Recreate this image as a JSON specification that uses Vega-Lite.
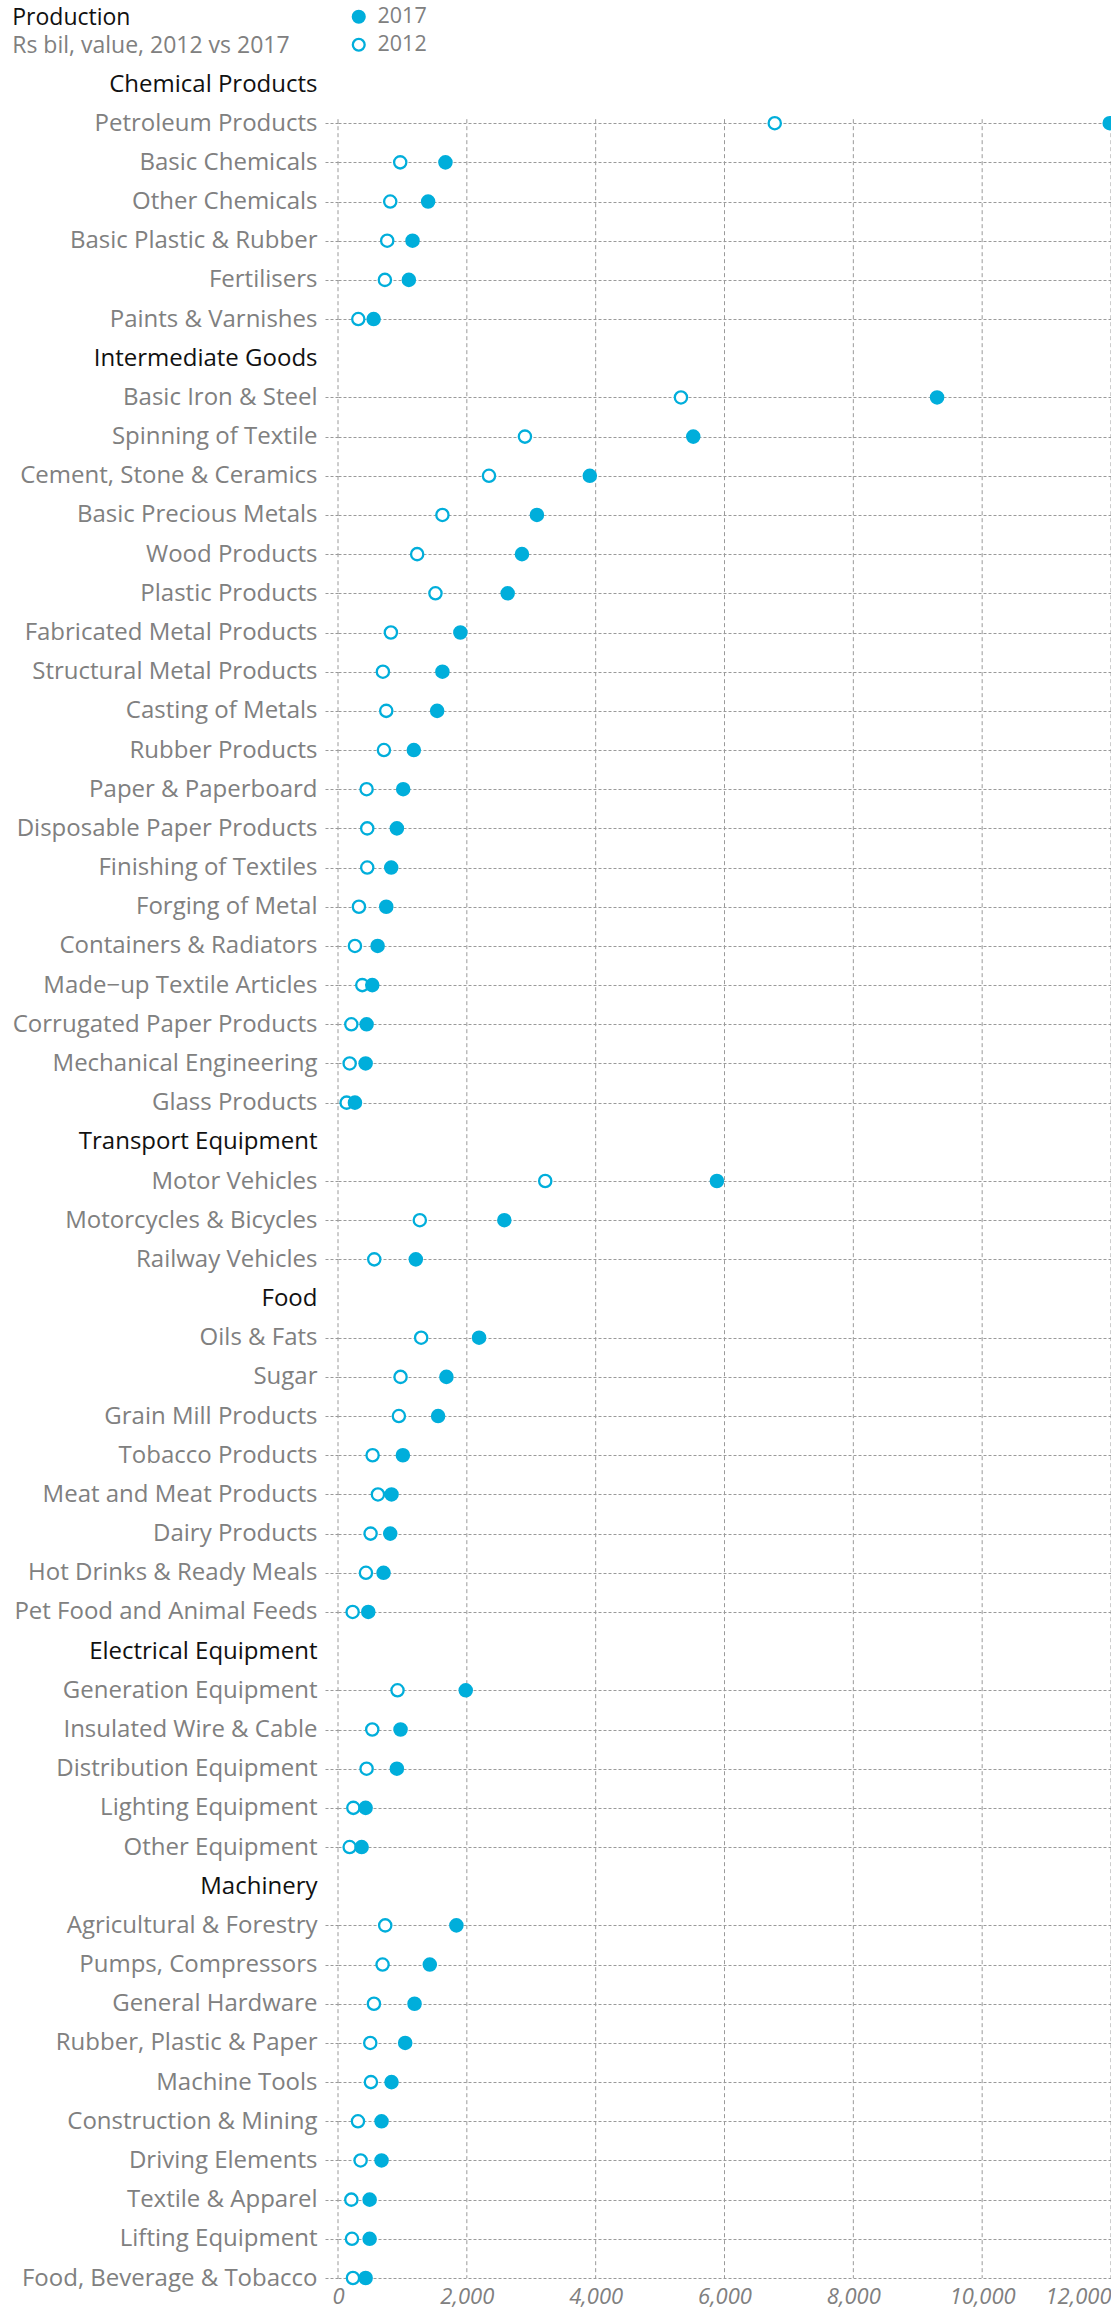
{
  "$schema": "https://vega.github.io/schema/vega-lite/v6.json",
  "autosize": {"type": "none"},
  "width": 773,
  "height": 2194,
  "padding": {"left": 338, "top": 84, "right": 0, "bottom": 33},
  "title": {
    "text": "Production",
    "subtitle": "Rs bil, value, 2012 vs 2017",
    "anchor": "start",
    "frame": "bounds",
    "orient": "top",
    "font": "Open Sans",
    "fontSize": 23,
    "fontWeight": "normal",
    "color": "#111111",
    "subtitleFont": "Open Sans",
    "subtitleFontSize": 23,
    "subtitleColor": "#808080",
    "subtitlePadding": 5,
    "offset": 0,
    "dy": 52
  },
  "datasets": {
    "grid": [
      {"tick": 0}, {"tick": 2000}, {"tick": 4000}, {"tick": 6000},
      {"tick": 8000}, {"tick": 10000}, {"tick": 12000}
    ],
    "points": [
      {"sector": "Petroleum Products", "year": "2012", "value": 6780},
      {"sector": "Basic Chemicals", "year": "2012", "value": 966},
      {"sector": "Other Chemicals", "year": "2012", "value": 811},
      {"sector": "Basic Plastic & Rubber", "year": "2012", "value": 764},
      {"sector": "Fertilisers", "year": "2012", "value": 728},
      {"sector": "Paints & Varnishes", "year": "2012", "value": 315},
      {"sector": "Basic Iron & Steel", "year": "2012", "value": 5324},
      {"sector": "Spinning of Textile", "year": "2012", "value": 2902},
      {"sector": "Cement, Stone & Ceramics", "year": "2012", "value": 2344},
      {"sector": "Basic Precious Metals", "year": "2012", "value": 1621},
      {"sector": "Wood Products", "year": "2012", "value": 1229},
      {"sector": "Plastic Products", "year": "2012", "value": 1513},
      {"sector": "Fabricated Metal Products", "year": "2012", "value": 821},
      {"sector": "Structural Metal Products", "year": "2012", "value": 697},
      {"sector": "Casting of Metals", "year": "2012", "value": 749},
      {"sector": "Rubber Products", "year": "2012", "value": 713},
      {"sector": "Paper & Paperboard", "year": "2012", "value": 444},
      {"sector": "Disposable Paper Products", "year": "2012", "value": 454},
      {"sector": "Finishing of Textiles", "year": "2012", "value": 454},
      {"sector": "Forging of Metal", "year": "2012", "value": 325},
      {"sector": "Containers & Radiators", "year": "2012", "value": 263},
      {"sector": "Made−up Textile Articles", "year": "2012", "value": 377},
      {"sector": "Corrugated Paper Products", "year": "2012", "value": 207},
      {"sector": "Mechanical Engineering", "year": "2012", "value": 181},
      {"sector": "Glass Products", "year": "2012", "value": 134},
      {"sector": "Motor Vehicles", "year": "2012", "value": 3217},
      {"sector": "Motorcycles & Bicycles", "year": "2012", "value": 1270},
      {"sector": "Railway Vehicles", "year": "2012", "value": 563},
      {"sector": "Oils & Fats", "year": "2012", "value": 1291},
      {"sector": "Sugar", "year": "2012", "value": 971},
      {"sector": "Grain Mill Products", "year": "2012", "value": 945},
      {"sector": "Tobacco Products", "year": "2012", "value": 537},
      {"sector": "Meat and Meat Products", "year": "2012", "value": 620},
      {"sector": "Dairy Products", "year": "2012", "value": 506},
      {"sector": "Hot Drinks & Ready Meals", "year": "2012", "value": 434},
      {"sector": "Pet Food and Animal Feeds", "year": "2012", "value": 227},
      {"sector": "Generation Equipment", "year": "2012", "value": 924},
      {"sector": "Insulated Wire & Cable", "year": "2012", "value": 532},
      {"sector": "Distribution Equipment", "year": "2012", "value": 444},
      {"sector": "Lighting Equipment", "year": "2012", "value": 238},
      {"sector": "Other Equipment", "year": "2012", "value": 181},
      {"sector": "Agricultural & Forestry", "year": "2012", "value": 733},
      {"sector": "Pumps, Compressors", "year": "2012", "value": 692},
      {"sector": "General Hardware", "year": "2012", "value": 558},
      {"sector": "Rubber, Plastic & Paper", "year": "2012", "value": 501},
      {"sector": "Machine Tools", "year": "2012", "value": 511},
      {"sector": "Construction & Mining", "year": "2012", "value": 310},
      {"sector": "Driving Elements", "year": "2012", "value": 351},
      {"sector": "Textile & Apparel", "year": "2012", "value": 207},
      {"sector": "Lifting Equipment", "year": "2012", "value": 217},
      {"sector": "Food, Beverage & Tobacco", "year": "2012", "value": 232},
      {"sector": "Petroleum Products", "year": "2017", "value": 11980},
      {"sector": "Basic Chemicals", "year": "2017", "value": 1668},
      {"sector": "Other Chemicals", "year": "2017", "value": 1399},
      {"sector": "Basic Plastic & Rubber", "year": "2017", "value": 1157},
      {"sector": "Fertilisers", "year": "2017", "value": 1100},
      {"sector": "Paints & Varnishes", "year": "2017", "value": 553},
      {"sector": "Basic Iron & Steel", "year": "2017", "value": 9300},
      {"sector": "Spinning of Textile", "year": "2017", "value": 5515},
      {"sector": "Cement, Stone & Ceramics", "year": "2017", "value": 3909},
      {"sector": "Basic Precious Metals", "year": "2017", "value": 3088},
      {"sector": "Wood Products", "year": "2017", "value": 2856},
      {"sector": "Plastic Products", "year": "2017", "value": 2634},
      {"sector": "Fabricated Metal Products", "year": "2017", "value": 1900},
      {"sector": "Structural Metal Products", "year": "2017", "value": 1621},
      {"sector": "Casting of Metals", "year": "2017", "value": 1539},
      {"sector": "Rubber Products", "year": "2017", "value": 1177},
      {"sector": "Paper & Paperboard", "year": "2017", "value": 1012},
      {"sector": "Disposable Paper Products", "year": "2017", "value": 914},
      {"sector": "Finishing of Textiles", "year": "2017", "value": 826},
      {"sector": "Forging of Metal", "year": "2017", "value": 749},
      {"sector": "Containers & Radiators", "year": "2017", "value": 615},
      {"sector": "Made−up Textile Articles", "year": "2017", "value": 532},
      {"sector": "Corrugated Paper Products", "year": "2017", "value": 444},
      {"sector": "Mechanical Engineering", "year": "2017", "value": 429},
      {"sector": "Glass Products", "year": "2017", "value": 263},
      {"sector": "Motor Vehicles", "year": "2017", "value": 5882},
      {"sector": "Motorcycles & Bicycles", "year": "2017", "value": 2582},
      {"sector": "Railway Vehicles", "year": "2017", "value": 1208},
      {"sector": "Oils & Fats", "year": "2017", "value": 2190},
      {"sector": "Sugar", "year": "2017", "value": 1683},
      {"sector": "Grain Mill Products", "year": "2017", "value": 1554},
      {"sector": "Tobacco Products", "year": "2017", "value": 1007},
      {"sector": "Meat and Meat Products", "year": "2017", "value": 831},
      {"sector": "Dairy Products", "year": "2017", "value": 811},
      {"sector": "Hot Drinks & Ready Meals", "year": "2017", "value": 707},
      {"sector": "Pet Food and Animal Feeds", "year": "2017", "value": 470},
      {"sector": "Generation Equipment", "year": "2017", "value": 1983},
      {"sector": "Insulated Wire & Cable", "year": "2017", "value": 971},
      {"sector": "Distribution Equipment", "year": "2017", "value": 914},
      {"sector": "Lighting Equipment", "year": "2017", "value": 429},
      {"sector": "Other Equipment", "year": "2017", "value": 367},
      {"sector": "Agricultural & Forestry", "year": "2017", "value": 1838},
      {"sector": "Pumps, Compressors", "year": "2017", "value": 1425},
      {"sector": "General Hardware", "year": "2017", "value": 1188},
      {"sector": "Rubber, Plastic & Paper", "year": "2017", "value": 1043},
      {"sector": "Machine Tools", "year": "2017", "value": 831},
      {"sector": "Construction & Mining", "year": "2017", "value": 676},
      {"sector": "Driving Elements", "year": "2017", "value": 676},
      {"sector": "Textile & Apparel", "year": "2017", "value": 491},
      {"sector": "Lifting Equipment", "year": "2017", "value": 491},
      {"sector": "Food, Beverage & Tobacco", "year": "2017", "value": 429}
    ]
  },
  "layer": [
    {
      "data": {"name": "grid"},
      "mark": {"type": "rule", "strokeDash": [4, 3], "color": "#9a9a9a", "strokeWidth": 1, "yOffset": -4},
      "encoding": {
        "x": {
          "field": "tick",
          "type": "quantitative",
          "title": null,
          "scale": {"domain": [0, 12000], "nice": false, "zero": true},
          "axis": {
            "values": [0, 2000, 4000, 6000, 8000, 10000, 12000],
            "format": ",d",
            "formatType": "number",
            "grid": false,
            "ticks": false,
            "domain": false,
            "labelFlush": false,
            "labelAlign": {"condition": {"test": "datum.value == 12000", "value": "right"}, "value": "center"},
            "labelFont": "Open Sans",
            "labelFontSize": 22,
            "labelFontStyle": "italic",
            "labelColor": "#808080",
            "labelPadding": 8
          }
        },
        "y": {"datum": "Petroleum Products", "type": "nominal", "title": null},
        "y2": {"datum": "Food, Beverage & Tobacco"}
      }
    },
    {
      "data": {"name": "points"},
      "mark": {"type": "circle", "stroke": "#00AEDB", "strokeWidth": 2.3, "size": 150, "opacity": 1},
      "encoding": {
        "x": {
          "field": "value",
          "type": "quantitative",
          "title": null,
          "scale": {"domain": [0, 12000], "nice": false, "zero": true},
          "axis": {
            "values": [0, 2000, 4000, 6000, 8000, 10000, 12000],
            "format": ",d",
            "formatType": "number",
            "grid": false,
            "ticks": false,
            "domain": false,
            "labelFlush": false,
            "labelAlign": {"condition": {"test": "datum.value == 12000", "value": "right"}, "value": "center"},
            "labelFont": "Open Sans",
            "labelFontSize": 22,
            "labelFontStyle": "italic",
            "labelColor": "#808080",
            "labelPadding": 8
          }
        },
        "y": {
          "field": "sector",
          "type": "nominal",
          "title": null,
          "scale": {
            "type": "point",
            "padding": 0,
            "domain": [
              "Chemical Products", "Petroleum Products", "Basic Chemicals", "Other Chemicals", "Basic Plastic & Rubber", "Fertilisers", "Paints & Varnishes",
              "Intermediate Goods", "Basic Iron & Steel", "Spinning of Textile", "Cement, Stone & Ceramics", "Basic Precious Metals", "Wood Products", "Plastic Products", "Fabricated Metal Products", "Structural Metal Products", "Casting of Metals", "Rubber Products", "Paper & Paperboard", "Disposable Paper Products", "Finishing of Textiles", "Forging of Metal", "Containers & Radiators", "Made−up Textile Articles", "Corrugated Paper Products", "Mechanical Engineering", "Glass Products",
              "Transport Equipment", "Motor Vehicles", "Motorcycles & Bicycles", "Railway Vehicles",
              "Food", "Oils & Fats", "Sugar", "Grain Mill Products", "Tobacco Products", "Meat and Meat Products", "Dairy Products", "Hot Drinks & Ready Meals", "Pet Food and Animal Feeds",
              "Electrical Equipment", "Generation Equipment", "Insulated Wire & Cable", "Distribution Equipment", "Lighting Equipment", "Other Equipment",
              "Machinery", "Agricultural & Forestry", "Pumps, Compressors", "General Hardware", "Rubber, Plastic & Paper", "Machine Tools", "Construction & Mining", "Driving Elements", "Textile & Apparel", "Lifting Equipment", "Food, Beverage & Tobacco"
            ]
          },
          "axis": {
            "domain": false,
            "grid": true,
            "gridDash": [3, 2],
            "gridColor": "#9a9a9a",
            "gridWidth": 1,
            "gridOpacity": {"condition": {"test": "indexof(['Chemical Products','Intermediate Goods','Transport Equipment','Food','Electrical Equipment','Machinery'], datum.value) >= 0", "value": 0}, "value": 1},
            "ticks": true,
            "tickSize": 13,
            "tickDash": [3, 2],
            "tickColor": "#9a9a9a",
            "tickOpacity": {"condition": {"test": "indexof(['Chemical Products','Intermediate Goods','Transport Equipment','Food','Electrical Equipment','Machinery'], datum.value) >= 0", "value": 0}, "value": 1},
            "labelFont": "Open Sans",
            "labelFontSize": 24,
            "labelColor": {"condition": {"test": "indexof(['Chemical Products','Intermediate Goods','Transport Equipment','Food','Electrical Equipment','Machinery'], datum.value) >= 0", "value": "#111111"}, "value": "#808080"},
            "labelPadding": 8,
            "labelLimit": 400
          }
        },
        "fill": {
          "field": "year",
          "type": "nominal",
          "scale": {"domain": ["2017", "2012"], "range": ["#00AEDB", "#ffffff"]},
          "legend": {
            "title": null,
            "orient": "none",
            "legendX": 10,
            "legendY": -78,
            "padding": 0,
            "symbolType": "circle",
            "symbolSize": 140,
            "symbolStrokeColor": "#00AEDB",
            "symbolStrokeWidth": 2.3,
            "labelFont": "Open Sans",
            "labelFontSize": 21.5,
            "labelColor": "#808080",
            "labelOffset": 8,
            "rowPadding": 5
          }
        }
      }
    }
  ],
  "config": {
    "font": "Open Sans",
    "view": {"stroke": null}
  }
}
